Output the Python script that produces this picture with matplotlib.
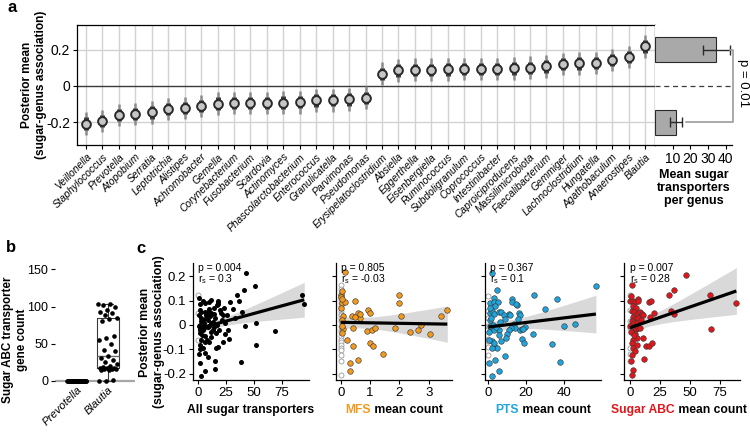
import numpy as np
import matplotlib
matplotlib.use("Agg")
import matplotlib.pyplot as plt
from matplotlib.offsetbox import TextArea, HPacker, AnchoredOffsetbox

plt.rcParams['font.family'] = ['Liberation Sans', 'DejaVu Sans']
plt.rcParams['mathtext.fontset'] = 'custom'
plt.rcParams['mathtext.rm'] = 'Liberation Sans'
plt.rcParams['mathtext.it'] = 'Liberation Sans:italic'
plt.rcParams['axes.linewidth'] = 0.9

# ---------------- panel a data ----------------
genera = ['Veillonella', 'Staphylococcus', 'Prevotella', 'Atopobium', 'Serratia',
          'Leptotrichia', 'Alistipes', 'Achromobacter', 'Gemella', 'Corynebacterium',
          'Fusobacterium', 'Scardovia', 'Actinomyces', 'Phascolarctobacterium',
          'Enterococcus', 'Granulicatella', 'Parvimonas', 'Pseudomonas',
          'Erysipelatoclostridium', 'Absiella', 'Eggerthella', 'Eisenbergiella',
          'Ruminococcus', 'Subdoligranulum', 'Coprococcus', 'Intestinibacter',
          'Caproiciproducens', 'Massilimicrobiota', 'Faecalibacterium', 'Gemmiger',
          'Lachnoclostridium', 'Hungatella', 'Agathobaculum', 'Anaerostipes', 'Blautia']
posterior_mean = [-0.207, -0.193, -0.161, -0.154, -0.146, -0.128, -0.122, -0.111, -0.097,
                  -0.094, -0.093, -0.093, -0.092, -0.090, -0.080, -0.079, -0.074, -0.065,
                  0.067, 0.085, 0.089, 0.089, 0.091, 0.094, 0.094, 0.093, 0.096, 0.100,
                  0.107, 0.120, 0.124, 0.126, 0.143, 0.159, 0.217]
ci95_half = [0.062] * 35
ci50_half = [0.034] * 35

group_mean_transporters = [34.7, 11.8]
group_sem = [7.7, 3.6]
group_pvalue = 'p = 0.01'

# ---------------- panel b data ----------------
box_genera = ['Prevotella', 'Blautia']
prevotella_abc = [0] * 30
blautia_abc = [104, 103, 102, 100, 96, 93, 91, 88, 85, 83, 81,
               60, 57, 55, 50, 42, 40,
               34, 31, 28, 25, 22, 20, 18, 17, 17, 17, 16, 16, 16, 15, 14, 1, 0, 0]

# ---------------- panel c data ----------------
all_x = [43, 51, 41, 35, 37, 29, 31, 39, 93, 95, 42, 52, 69, 52, 38, 28, 24, 22, 26, 33,
         23, 21, 20.6, 22, 18, 16.5, 11.2, 9.4, 17.6, 18.2, 1.5, 3, 5.9, 8.8, 11.8, 14.7, 7.4, 4.4, 13.2, 1.5,
         3, 4.4, 8.8, 11.8, 16.2, 19.1, 1.5, 3, 5.9, 1.5, 4.4, 5.9, 8.8, 16.2, 18.2, 1.5, 3, 6.5, 15.3, 0.5,
         2, 2.5, 5, 6, 7, 9, 10, 12, 14, 2, 3.5, 6, 8, 10, 12, 2, 1, 4, 6.5, 14,
         0.8, 2.8, 4.8, 9.5, 11, 13, 17, 19.5, 24, 27, 1, 15, 15.6]
all_y = [0.215, 0.16, 0.142, 0.122, 0.10, 0.096, 0.066, 0.054, 0.122, 0.087,
         -0.005, 0.006, -0.024, -0.081, -0.153, -0.058, -0.036, -0.072, 0.04, 0.03,
         0.069, 0.02, 0.048, 0.041, 0.098, 0.084, 0.103, 0.096, 0.096, 0.085,
         0.085, 0.055, 0.055, 0.055, 0.048, 0.044, 0.028, 0.02, 0.014, 0.0,
         -0.014, -0.02, -0.007, -0.028, -0.034, -0.021, -0.034, -0.062, -0.069, -0.083,
         -0.096, -0.117, -0.131, -0.094, -0.09, -0.158, -0.209, -0.19, -0.183, -0.12,
         0.06, 0.03, 0.01, -0.01, 0.04, 0.02, -0.005, 0.01, -0.01, -0.02,
         -0.04, -0.045, -0.06, -0.07, -0.05, -0.1, 0.11, 0.1, 0.09, 0.07,
         -0.005, 0.015, -0.008, 0.065, 0.035, -0.02, 0.0, 0.06, 0.01, -0.02, 0.04, 0.03, -0.148]
all_zero_y = [0.124, 0.048, -0.062]

mfs_x = [0.15, 0, 0.01, 0.03, 0.15, 0.09, 0.37, 0.49, 0.6, 0.66,
         0.94, 1.0, 0.88, 1.05, 1.17, 1.0, 1.11, 1.45, 0.43, 0.2,
         0.6, 0.32, 0.32, 0.09, 0.41, 1.99, 1.99, 2.07, 1.85, 2.36,
         2.64, 2.75, 3.04, 3.43, 3.63, 0.05, 0.04, 0.02, 0.05, 0.03, 0.06, 0.5, 0.65]
mfs_y = [0.217, 0.125, 0.114, 0.091, 0.093, 0.036, 0.036, 0.098, 0.05, 0.029,
         0.06, 0.05, -0.026, -0.019, -0.012, -0.074, -0.086, -0.12, -0.088, -0.061,
         -0.143, -0.157, -0.188, -0.017, -0.012, 0.125, 0.091, 0.036, -0.012, -0.029,
         -0.019, 0.001, -0.037, 0.036, 0.06, 0.14, 0.105, 0.07, 0.02, -0.005, -0.035, 0.032, 0.045]
mfs_zero_y = [0.163, 0.146, 0.129, 0.112, 0.102, 0.091, 0.077, 0.056, 0.047, 0.039, 0.029, 0.015,
              -0.003, -0.019, -0.030, -0.047, -0.061, -0.072, -0.081, -0.095, -0.105, -0.123, -0.147, -0.205]

pts_x = [4.46, 3.2, 0.9, 2.7, 5.0, 3.6, 0.9, 1.8, 2.7, 5.35,
         6.8, 10.7, 11.6, 8.0, 8.9, 12.5, 15.1, 16.0, 16.9, 15.7,
         13.3, 14.2, 16.9, 17.8, 19.2, 12.1, 10.7, 6.2, 5.35, 5.7,
         9.8, 9.3, 6.8, 1.8, 3.2, 4.5, 1.8, 2.7, 1.4, 0.9,
         2.7, 0.4, 0.4, 3.6, 5.35, 2.1, 8.9, 17.8, 18.7, 23.5,
         24.0, 29.9, 33.4, 36.5, 37.7, 40.0, 45.9, 56.9, 1.8, 12.5,
         14.8, 18.1, 0.6, 1.2, 2.2, 0.5, 3.8, 1.0]
pts_y = [0.143, 0.112, 0.091, 0.094, 0.094, 0.08, 0.05, 0.056, 0.045, 0.054,
         0.052, 0.047, 0.039, 0.039, 0.025, 0.107, 0.084, 0.05, 0.039, 0.025,
         0.004, -0.012, -0.019, -0.017, -0.008, -0.012, -0.019, 0.011, -0.019, -0.04,
         -0.036, -0.054, -0.067, -0.067, -0.088, -0.095, -0.095, -0.074, -0.012, -0.006,
         -0.019, -0.061, -0.157, -0.146, -0.191, -0.212, -0.127, -0.058, -0.074, -0.036,
         0.125, 0.066, -0.079, 0.105, -0.153, -0.006, 0.004, 0.16, 0.213, 0.096,
         0.087, -0.017, 0.02, 0.03, 0.0, -0.03, -0.01, 0.07]
pts_zero_y = [0.121, 0.056, -0.003, -0.058, -0.067, -0.123, 0.03, -0.09]

abc_x = [1.4, 0, 2.2, 4.2, 7.0, 7.0, 2.8, 5.0, 1.4, 3.4,
         5.6, 8.4, 9.8, 11.2, 2.8, 4.2, 7.0, 1.4, 3.4, 5.6,
         0.3, 2.2, 5.0, 7.0, 8.4, 4.2, 5.6, 2.8, 1.4, 5.6,
         2.8, 4.2, 1.4, 0.6, 2.2, 1.4, 11.2, 13.4, 16.2, 18.2,
         11.8, 16.2, 17.3, 20.4, 16.8, 33.0, 36.4, 34.1, 36.4, 67.1,
         89, 67.7, 46.7, 0.8, 1.0, 3.0, 6.0, 9.0]
abc_y = [0.163, 0.1, 0.097, 0.093, 0.107, 0.1, 0.079, 0.068, 0.058, 0.054,
         0.047, 0.054, 0.044, 0.04, 0.033, 0.024, 0.028, 0.017, 0.006, 0.003,
         -0.004, -0.025, -0.018, -0.011, -0.011, -0.039, -0.053, -0.06, -0.074, -0.081,
         -0.094, -0.106, -0.122, -0.147, -0.185, -0.206, -0.053, -0.088, -0.088, -0.074,
         -0.139, 0.093, 0.1, 0.051, 0.031, 0.124, 0.142, 0.058, 0.044, 0.125,
         0.09, -0.018, 0.205, 0.12, -0.03, -0.04, 0.01, 0.02]
abc_zero_y = [0.125, 0.061, 0.017, -0.011, -0.094, -0.119, -0.15]

c_pvalues = ['p = 0.004', 'p = 0.805', 'p = 0.367', 'p = 0.007']
c_rs = ['0.3', '-0.03', '0.1', '0.28']
c_label_parts = [[('All sugar transporters', 'black')],
                 [('MFS', '#F39A1E'), (' mean count', 'black')],
                 [('PTS', '#1EA5DE'), (' mean count', 'black')],
                 [('Sugar ABC', '#E3151B'), (' mean count', 'black')]]
c_colors = ['black', '#F39A1E', '#1EA5DE', '#E3151B']
c_xticks = [[0, 25, 50, 75], [0, 1, 2, 3], [0, 20, 40], [0, 25, 50, 75]]
c_xlims = [(-4.8, 99), (-0.17, 3.78), (-1.8, 59.6), (-4.8, 92.3)]

# ---------------- figure ----------------
W, H = 750, 432
fig = plt.figure(figsize=(W / 100, H / 100), dpi=100)


def add_ax(l, t, r, b):
    return fig.add_axes([l / W, 1 - b / H, (r - l) / W, (b - t) / H])


def fig_text(x, y, s, **kw):
    return fig.text(x / W, 1 - y / H, s, **kw)


# ---- panel a main ----
axA = add_ax(77, 25, 655, 145)
xs = np.arange(len(genera))
pm = np.array(posterior_mean)
for x in xs:
    axA.axvline(x, color='#d2d2d2', lw=1.0, zorder=0)
for yv in (0.2, -0.2):
    axA.axhline(yv, color='#d2d2d2', lw=1.0, zorder=0)
axA.axhline(0, color='#3a3a3a', lw=1.0, zorder=1)
axA.vlines(xs, pm - np.array(ci95_half), pm + np.array(ci95_half), color='#8c8c8c', lw=1.8, zorder=2)
axA.vlines(xs, pm - np.array(ci50_half), pm + np.array(ci50_half), color='#3e3e3e', lw=3.6, zorder=3)
axA.plot(xs, pm, 'o', ms=6.3, mfc='#c6c6c6', mec='#2a2a2a', mew=1.4, zorder=4)
axA.set_xlim(-0.55, 34.6)
axA.set_ylim(-0.325, 0.335)
axA.set_yticks([-0.2, 0, 0.2])
axA.set_yticklabels(['-0.2', '0', '0.2'], fontsize=10)
axA.set_xticks(xs)
axA.set_xticklabels(genera, rotation=45, ha='right', rotation_mode='anchor',
                    fontstyle='italic', fontsize=7.4)
axA.tick_params(axis='x', length=3, width=0.8, pad=2)
axA.tick_params(axis='y', length=3, width=0.8, pad=2)
fig_text(34, 85, 'Posterior mean\n(sugar-genus association)', fontweight='bold', fontsize=8.6,
         rotation=90, ha='center', va='center', linespacing=1.15, multialignment='center')
fig_text(12, 7, 'a', fontweight='bold', fontsize=12, ha='center', va='center')

# ---- panel a bars ----
axB = add_ax(655, 25, 732, 145)
axB.set_ylim(axA.get_ylim())
axB.barh([0.2, -0.2], group_mean_transporters, height=0.135, color='#a9a9a9',
         edgecolor='#2a2a2a', lw=0.8, xerr=group_sem,
         error_kw=dict(ecolor='#2a2a2a', elinewidth=1.0, capsize=3.5, capthick=1.0), zorder=2)
axB.axhline(0, color='#3a3a3a', lw=0.9, ls=(0, (4, 3)), zorder=1)
axB.set_xlim(0, 43.5)
axB.set_xticks([10, 20, 30, 40])
axB.set_xticklabels(['10', '20', '30', '40'], fontsize=10)
axB.tick_params(axis='x', length=3, width=0.8, pad=2)
axB.set_yticks([])
for s in ('top', 'right', 'left'):
    axB.spines[s].set_visible(False)
axB.set_xlabel('Mean sugar\ntransporters\nper genus', fontweight='bold', fontsize=9,
               linespacing=1.15, labelpad=2)
axB.plot([42.6, 43.8, 43.8, 17.5], [0.2, 0.2, -0.2, -0.2], color='#9c9c9c', lw=1.2,
         clip_on=False, zorder=3)
axB.text(49.6, 0.015, group_pvalue, rotation=270, ha='center', va='center', fontsize=9.5,
         clip_on=False)

# ---- panel b ----
axb = add_ax(55, 268, 135, 383)
axb.axhline(0, color='#a6a6a6', lw=1.6, zorder=1)
axb.boxplot([prevotella_abc, blautia_abc], positions=[0, 1], widths=0.68, whis=(0, 100),
            showfliers=False,
            medianprops=dict(color='#6a6a6a', lw=1.0),
            boxprops=dict(color='#3a3a3a', lw=0.8),
            whiskerprops=dict(color='#3a3a3a', lw=0.8),
            capprops=dict(color='#3a3a3a', lw=0.8))
for i, vals in enumerate([prevotella_abc, blautia_abc]):
    n = len(vals)
    jit = ((np.arange(n) * 0.618) % 1 - 0.5) * 0.62
    axb.scatter(i + jit, vals, s=11, color='black', zorder=3, clip_on=False, lw=0)
axb.set_xlim(-0.71, 1.87)
axb.set_ylim(-3, 152)
axb.set_yticks([0, 50, 100, 150])
axb.set_yticklabels(['0', '50', '100', '150'], fontsize=9)
axb.set_xticks([0, 1])
axb.set_xticklabels(box_genera, rotation=45, ha='right', rotation_mode='anchor',
                    fontstyle='italic', fontsize=8.2)
axb.tick_params(axis='x', length=0, pad=1)
axb.tick_params(axis='y', length=3, width=0.8, pad=2)
for s in axb.spines.values():
    s.set_visible(False)
fig_text(15, 340, 'Sugar ABC transporter\ngene count', fontweight='bold', fontsize=8.4,
         rotation=90, ha='center', va='center', linespacing=1.15, multialignment='center')
fig_text(11, 248, 'b', fontweight='bold', fontsize=12, ha='center', va='center')
fig_text(141, 249, 'c', fontweight='bold', fontsize=12, ha='center', va='center')
fig_text(152, 332, 'Posterior mean\n(sugar-genus association)', fontweight='bold', fontsize=8.8,
         rotation=90, ha='center', va='center', linespacing=1.15, multialignment='center')

# ---- panel c ----
lefts = [192.7, 335.7, 485, 624.3]
label_x = [0.5, 0.5, 0.5, 0.47]
datasets = [(all_x, all_y, all_zero_y), (mfs_x, mfs_y, mfs_zero_y),
            (pts_x, pts_y, pts_zero_y), (abc_x, abc_y, abc_zero_y)]


def fit_band(x, y, grid):
    x = np.asarray(x, float)
    y = np.asarray(y, float)
    n = len(x)
    b, a = np.polyfit(x, y, 1)
    resid = y - (a + b * x)
    s = np.sqrt(np.sum(resid ** 2) / (n - 2))
    sxx = np.sum((x - x.mean()) ** 2)
    se = s * np.sqrt(1 / n + (grid - x.mean()) ** 2 / sxx)
    return a + b * grid, 1.98 * se


for k, (l, (dx, dy, zy)) in enumerate(zip(lefts, datasets)):
    ax = add_ax(l, 263, l + 116, 380.3)
    fx = list(dx) + [0] * len(zy)
    fy = list(dy) + list(zy)
    grid = np.linspace(0, max(dx), 100)
    yhat, half = fit_band(fx, fy, grid)
    ax.fill_between(grid, yhat - half, yhat + half, color='#d9d9d9', lw=0, zorder=1)
    ax.scatter([0] * len(zy), zy, s=13, facecolor='white', edgecolor='#9a9a9a', lw=0.6, zorder=2,
               clip_on=False)
    if k == 0:
        ax.scatter(dx, dy, s=13, color='black', lw=0, zorder=3, clip_on=False)
    else:
        ax.scatter(dx, dy, s=16, facecolor=c_colors[k], edgecolor='#3a3a3a', lw=0.45, zorder=3,
                   clip_on=False)
    ax.plot(grid, yhat, color='black', lw=2.3, zorder=4, solid_capstyle='butt')
    ax.set_xlim(c_xlims[k])
    ax.set_ylim(-0.228, 0.255)
    ax.set_yticks([-0.2, -0.1, 0, 0.1, 0.2])
    if k == 0:
        ax.set_yticklabels(['-0.2', '-0.1', '0', '0.1', '0.2'], fontsize=9.5)
    else:
        ax.set_yticklabels([])
    ax.set_xticks(c_xticks[k])
    ax.set_xticklabels([str(t) for t in c_xticks[k]], fontsize=9.5)
    ax.tick_params(length=3, width=0.8, pad=2)
    for s in ('top', 'right'):
        ax.spines[s].set_visible(False)
    ax.text(0.045, 0.955, c_pvalues[k], transform=ax.transAxes, fontsize=7.5, va='center')
    ax.text(0.045, 0.865, r'r$_\mathregular{s}$ = ' + c_rs[k], transform=ax.transAxes,
            fontsize=7.5, va='center')
    boxes = [TextArea(t, textprops=dict(color=c, fontsize=8.7, fontweight='bold'))
             for t, c in c_label_parts[k]]
    pack = HPacker(children=boxes, align='baseline', pad=0, sep=0)
    anc = AnchoredOffsetbox(loc='center', child=pack, pad=0, frameon=False, borderpad=0,
                            bbox_to_anchor=(label_x[k], -0.255), bbox_transform=ax.transAxes)
    ax.add_artist(anc)

fig.savefig('out.png', dpi=100)
